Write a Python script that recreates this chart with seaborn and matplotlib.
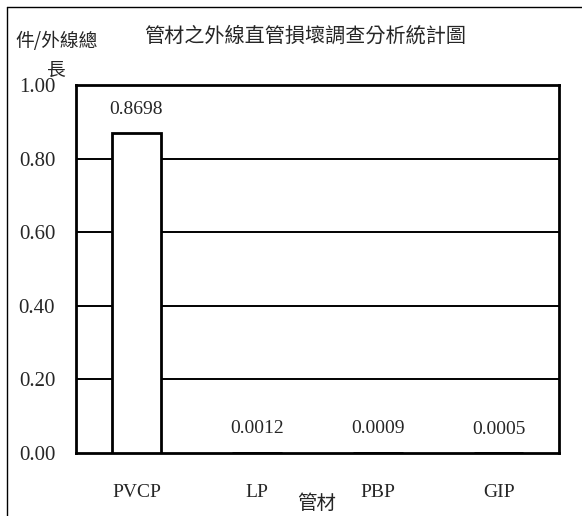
import matplotlib
matplotlib.use("Agg")
import matplotlib.pyplot as plt
from matplotlib.lines import Line2D
import seaborn as sns
import pandas as pd

# Pipe materials and damage counts per length of service line
materials = ["PVCP", "LP", "PBP", "GIP"]
rates = [0.8698, 0.0012, 0.0009, 0.0005]
rate_labels = ["0.8698", "0.0012", "0.0009", "0.0005"]
y_ticks = [0.0, 0.2, 0.4, 0.6, 0.8, 1.0]

sns.set_style("white")
serif = ["Liberation Serif", "DejaVu Serif"]
cjk = ["Noto Sans CJK TC", "DejaVu Sans"]
plt.rcParams["font.family"] = serif

df = pd.DataFrame({"material": materials, "rate": rates})

fig = plt.figure(figsize=(5.82, 5.16), dpi=100)
ax = fig.add_axes([76 / 582, 63 / 516, 483 / 582, 368 / 516])

sns.barplot(data=df, x="material", y="rate", order=materials, ax=ax,
            color="white", edgecolor="black", linewidth=2.0, width=0.41,
            zorder=3)

ax.set_ylim(0, 1.0)
ax.set_xlim(-0.5, len(materials) - 0.5)
ax.set_yticks(y_ticks)
ax.set_yticklabels([f"{t:.2f}" for t in y_ticks], fontsize=15, family=serif)
ax.tick_params(axis="y", length=0, pad=15)
ax.set_xticks(range(len(materials)))
ax.set_xticklabels(materials, fontsize=14, family=serif)
ax.tick_params(axis="x", length=0, pad=22)

# Category separators on the baseline
ax.set_xticks([0.5, 1.5, 2.5], minor=True)
ax.tick_params(axis="x", which="minor", direction="in", length=5,
               width=1, color="black")

for y in y_ticks[1:-1]:
    ax.axhline(y, color="black", linewidth=1.4, zorder=1)

for spine in ax.spines.values():
    spine.set_visible(True)
    spine.set_color("black")
    spine.set_linewidth(2.0)

ax.set_xlabel("")
ax.set_ylabel("")

for i, (v, lab) in enumerate(zip(rates, rate_labels)):
    ax.annotate(lab, (i, v), xytext=(0, 11), textcoords="offset points",
                ha="center", va="bottom", fontsize=14, family=serif)

fig.text(305 / 582, 1 - 36 / 516, "管材之外線直管損壞調查分析統計圖",
         ha="center", va="center", fontsize=14.5, family=cjk)
fig.text(15 / 582, 1 - 42 / 516, "件/外線總", ha="left", va="center",
         fontsize=13.5, family=cjk)
fig.text(56 / 582, 1 - 70 / 516, "長", ha="center", va="center",
         fontsize=13.5, family=cjk)
fig.text(317 / 582, 1 - 503 / 516, "管材", ha="center", va="center",
         fontsize=14, family=cjk)

# Outer chart frame (left and top edges)
fig.add_artist(Line2D([7 / 582, 7 / 582], [0, 1 - 7 / 516],
                      transform=fig.transFigure, color="black", linewidth=1.0))
fig.add_artist(Line2D([7 / 582, 1], [1 - 7 / 516, 1 - 7 / 516],
                      transform=fig.transFigure, color="black", linewidth=1.0))

fig.savefig("out.png", dpi=100)
